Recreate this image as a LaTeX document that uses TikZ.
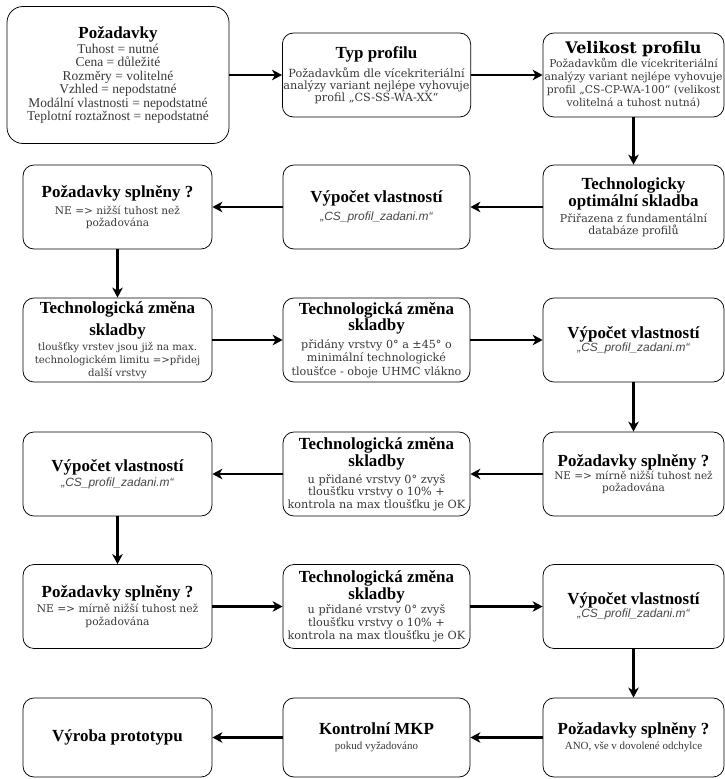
\documentclass[tikz,border=0pt]{standalone}
\usepackage{fontspec}
\setmainfont{Liberation Serif}
\newfontfamily\slabfont{DejaVu Serif}
\newfontfamily\codefont{Liberation Sans}
\usepackage{tikz}
\usetikzlibrary{arrows.meta,positioning}
\definecolor{bodygray}{gray}{0.22}
\definecolor{codegray}{gray}{0.28}

\newcommand{\boxtitle}[1]{{\color{black}\rmfamily\bfseries\fontsize{17}{17}\selectfont #1}}
\newcommand{\widetitle}[1]{{\color{black}\slabfont\bfseries\fontsize{16}{16}\selectfont #1}}
\newcommand{\slabsize}[2]{\slabfont\fontsize{#1}{#2}\selectfont\lineskiplimit=-30pt\lineskip=0pt}
\newcommand{\timessize}[2]{\rmfamily\fontsize{#1}{#2}\selectfont\lineskiplimit=-30pt\lineskip=0pt}
\newcommand{\mfile}{{\color{codegray}\codefont\itshape\fontsize{12}{12}\selectfont „CS\_profil\_zadani.m“}}

\tikzset{
  flowbox/.style={draw=black,line width=0.75bp,fill=white,rounded corners=11bp,
    align=center,minimum height=84bp,inner sep=1bp,text=bodygray,font={\slabsize{11}{11.6}}},
  colL/.style={flowbox,minimum width=189bp},
  colM/.style={flowbox,minimum width=187bp},
  colR/.style={flowbox,minimum width=181bp},
  reqbox/.style={flowbox,minimum width=222bp,minimum height=137bp,
    rounded corners=16bp,font={\timessize{13.5}{13.6}}},
  lastrow/.style={minimum height=79bp,font={\timessize{11}{12}}},
  flowarr/.style={-{Stealth[length=10bp,width=10.5bp,inset=3bp]},line width=2.6bp},
}

\begin{document}
\begin{tikzpicture}[x=1bp,y=-1bp]
\useasboundingbox (0,0) rectangle (725,779);
% row 1
\node[reqbox] (pozad) at (118,75) {\boxtitle{Požadavky}\\[1.4bp]
  Tuhost = nutné\\ Cena = důležité\\ Rozměry = volitelné\\ Vzhled = nepodstatné\\
  Modální vlastnosti = nepodstatné\\ Teplotní roztažnost = nepodstatné};
\node[colM,font={\slabsize{11.3}{11.8}}] (typ) at (376.5,75) {\boxtitle{Typ profilu}\\[7.2bp]
  Požadavkům dle vícekriteriální\\ analýzy variant nejlépe vyhovuje\\ profil „CS-SS-WA-XX“};
\node[colR,font={\slabsize{10.8}{13}}] (velik) at (633.5,75)
  {\widetitle{Velikost profilu}\\[1bp]
  Požadavkům dle vícekriteriální\\ analýzy variant nejlépe vyhovuje\\
  profil „CS-CP-WA-100“ (velikost\\ volitelná a tuhost nutná)};
% row 2
\node[colL,font={\slabsize{10.6}{11.5}}] (req1) at (117.5,207) {\boxtitle{Požadavky splněny ?}\\[5.5bp]
  NE => nižší tuhost než\\ požadována};
\node[colM] (calc1) at (376.5,207) {\boxtitle{Výpočet vlastností}\\[6.4bp] \mfile};
\node[colR,font={\slabsize{11}{12}}] (techopt) at (633.5,207)
  {\boxtitle{Technologicky}\\[5bp] \boxtitle{optimální skladba}\\[4bp]
  Přiřazena z fundamentální\\ databáze profilů};
% row 3
\node[colL,font={\slabsize{10.2}{13}}] (chg1) at (117.5,340)
  {\boxtitle{Technologická změna}\\[9bp] \boxtitle{skladby}\\[2bp]
  tloušťky vrstev jsou již na max.\\ technologickém limitu =>přidej\\ další vrstvy};
\node[colM,font={\slabsize{11.2}{13.5}}] (chg2) at (376.5,340)
  {\boxtitle{Technologická změna}\\[3bp] \boxtitle{skladby}\\[4.5bp]
  přidány vrstvy 0° a ±45° o\\ minimální technologické\\ tloušťce - oboje UHMC vlákno};
\node[colR] (calc2) at (633.5,340) {\boxtitle{Výpočet vlastností}\\[1.4bp] \mfile};
% row 4
\node[colL] (calc3) at (117.5,474) {\boxtitle{Výpočet vlastností}\\[3.4bp] \mfile};
\node[colM,font={\slabsize{11.3}{12.5}}] (chg3) at (376.5,474)
  {\boxtitle{Technologická změna}\\[4.5bp] \boxtitle{skladby}\\[4.5bp]
  u přidané vrstvy 0° zvyš\\ tloušťku vrstvy o 10\% +\\ kontrola na max tloušťku je OK};
\node[colR,font={\slabsize{10.5}{12.5}}] (req2) at (633.5,474) {\boxtitle{Požadavky splněny ?}\\[0.5bp]
  NE => mírně nižší tuhost než\\ požadována};
% row 5
\node[colL,font={\slabsize{10.7}{13}}] (req3) at (117.5,606.5)
  {\boxtitle{Požadavky splněny ?}\\[2bp] NE => mírně nižší tuhost než\\ požadována};
\node[colM,font={\slabsize{11.3}{13}}] (chg4) at (376.5,606.5)
  {\boxtitle{Technologická změna}\\[3.5bp] \boxtitle{skladby}\\[2bp]
  u přidané vrstvy 0° zvyš\\ tloušťku vrstvy o 10\% +\\ kontrola na max tloušťku je OK};
\node[colR] (calc4) at (633.5,606.5) {\boxtitle{Výpočet vlastností}\\[1.4bp] \mfile};
% row 6
\node[colL,lastrow] (proto) at (117.5,737.5) {\boxtitle{Výroba prototypu}};
\node[colM,lastrow] (mkp) at (376.5,737.5) {\boxtitle{Kontrolní MKP}\\[3bp] pokud vyžadováno};
\node[colR,lastrow] (req4) at (633.5,737.5) {\boxtitle{Požadavky splněny ?}\\[3bp]
  ANO, vše v dovolené odchylce};
% connectors
\draw[flowarr] (pozad) -- (typ);
\draw[flowarr] (typ) -- (velik);
\draw[flowarr] (velik) -- (techopt);
\draw[flowarr] (techopt) -- (calc1);
\draw[flowarr] (calc1) -- (req1);
\draw[flowarr] (req1) -- (chg1);
\draw[flowarr] (chg1) -- (chg2);
\draw[flowarr] (chg2) -- (calc2);
\draw[flowarr] (calc2) -- (req2);
\draw[flowarr] (req2) -- (chg3);
\draw[flowarr] (chg3) -- (calc3);
\draw[flowarr] (calc3) -- (req3);
\draw[flowarr] (req3) -- (chg4);
\draw[flowarr] (chg4) -- (calc4);
\draw[flowarr] (calc4) -- (req4);
\draw[flowarr] (req4) -- (mkp);
\draw[flowarr] (mkp) -- (proto);
\end{tikzpicture}
\end{document}
